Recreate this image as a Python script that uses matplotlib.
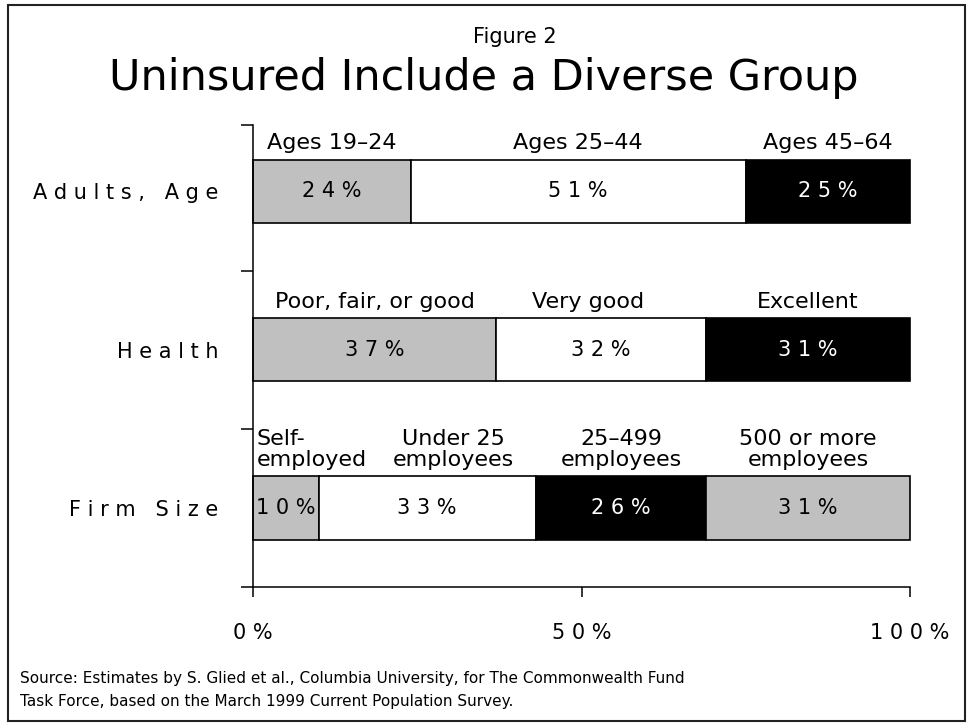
import numpy as np
import matplotlib.pyplot as plt
from matplotlib.patches import Rectangle

plt.rcParams['font.family'] = ['DejaVu Sans']

categories = ["Adults, Age", "Health", "Firm Size"]

age_groups = ["Ages 19–24", "Ages 25–44", "Ages 45–64"]
age_pct = [24, 51, 25]

health_groups = ["Poor, fair, or good", "Very good", "Excellent"]
health_pct = [37, 32, 31]

firm_groups = ["Self-\nemployed", "Under 25\nemployees", "25–499\nemployees", "500 or more\nemployees"]
firm_pct = [10, 33, 26, 31]

x_ticks = [0, 50, 100]

source_lines = [
    "Source: Estimates by S. Glied et al., Columbia University, for The Commonwealth Fund",
    "Task Force, based on the March 1999 Current Population Survey.",
]

GRAY = "#c0c0c0"
rows = [
    (age_groups, age_pct, [GRAY, "white", "black"]),
    (health_groups, health_pct, [GRAY, "white", "black"]),
    (firm_groups, firm_pct, [GRAY, "white", "black", GRAY]),
]

# small sideways nudges for labels that sit off-centre over their segment
label_shift = {"Under 25\nemployees": 4, "Very good": -2}


def spaced(s):
    return " ".join(s)


W, H = 973, 726
fig = plt.figure(figsize=(W / 100, H / 100), dpi=100)
ax = fig.add_axes([253 / W, 1 - 587 / H, (910 - 253) / W, (587 - 125) / H])

bar_h = 0.40
for i, (labels, pcts, colors) in enumerate(rows):
    lefts = np.concatenate([[0], np.cumsum(pcts)[:-1]])
    bars = ax.barh(i, pcts, left=lefts, height=bar_h, color=colors,
                   edgecolor="black", linewidth=1.2)
    for b in bars:
        b.set_clip_on(False)
    for lab, p, l, c in zip(labels, pcts, lefts, colors):
        mid = l + p / 2
        ax.text(mid, i, spaced(f"{p}%"), ha="center", va="center",
                fontsize=15, color="white" if c == "black" else "black")
        if lab.startswith("Self"):
            ax.text(l + 0.6, i - bar_h / 2 - 0.04, lab, ha="left", va="bottom",
                    fontsize=16, linespacing=1.05)
        else:
            ax.text(mid + label_shift.get(lab, 0), i - bar_h / 2 - 0.04, lab,
                    ha="center", va="bottom", fontsize=16, linespacing=1.05,
                    multialignment="center")

ax.set_xlim(0, 100)
ax.set_ylim(2.5, -0.42)

ax.set_xticks(x_ticks)
ax.set_xticklabels([spaced(f"{v}%") for v in x_ticks])
ax.tick_params(axis="x", direction="out", length=7.2, width=1.1, pad=19, labelsize=15)

ax.set_yticks([-0.42, 0.5, 1.5, 2.5])
ax.set_yticklabels([])
ax.set_yticks(range(len(categories)), minor=True)
ax.set_yticklabels([spaced(c) for c in categories], minor=True, fontsize=15)
ax.tick_params(axis="y", which="major", direction="out", length=8.6, width=1.1)
ax.tick_params(axis="y", which="minor", length=0, pad=25)

for side in ["top", "right"]:
    ax.spines[side].set_visible(False)
for side in ["left", "bottom"]:
    ax.spines[side].set_linewidth(1.1)

fig.text(515 / W, 1 - 43 / H, "Figure 2", ha="center", va="baseline", fontsize=15)
fig.text(483.5 / W, 1 - 90 / H, "Uninsured Include a Diverse Group",
         ha="center", va="baseline", fontsize=31)
fig.text(20 / W, 1 - 683 / H, source_lines[0], ha="left", va="baseline", fontsize=11)
fig.text(20 / W, 1 - 706 / H, source_lines[1], ha="left", va="baseline", fontsize=11)

fig.add_artist(Rectangle((8 / W, 5 / H), 957 / W, 716 / H, transform=fig.transFigure,
                         fill=False, edgecolor="#222222", linewidth=1.5))

fig.savefig("out.png", dpi=100)
